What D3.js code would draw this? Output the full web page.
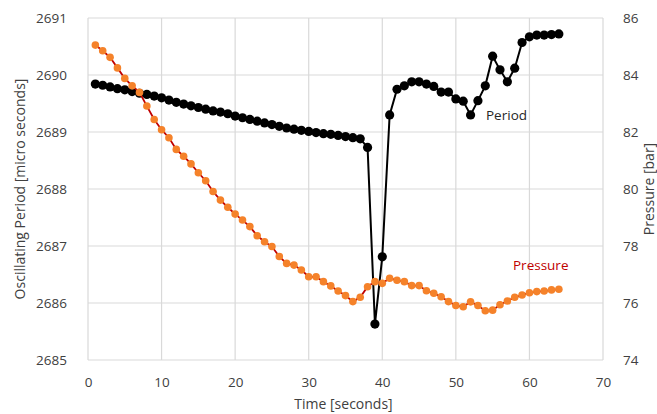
<!DOCTYPE html>
<html>
<head>
<meta charset="utf-8">
<script src="https://cdn.jsdelivr.net/npm/d3@7"></script>
<style>
  html, body { margin: 0; padding: 0; background: #fff; }
  svg text { font-family: "Open Sans", "Noto Sans", sans-serif; }
</style>
</head>
<body>
<svg id="chart" width="657" height="414"></svg>
<script>
// Time axis (seconds)
const time = d3.range(1, 65);

// Oscillating period, micro seconds (left axis)
const period = [
  2689.84, 2689.82, 2689.79, 2689.76, 2689.74, 2689.71, 2689.68, 2689.66, 2689.63, 2689.60,
  2689.56, 2689.52, 2689.49, 2689.46, 2689.43, 2689.40, 2689.37, 2689.35, 2689.32, 2689.28,
  2689.25, 2689.22, 2689.19, 2689.16, 2689.13, 2689.10, 2689.07, 2689.05, 2689.03, 2689.01,
  2688.99, 2688.97, 2688.96, 2688.94, 2688.92, 2688.90, 2688.88, 2688.73, 2685.63, 2686.81,
  2689.30, 2689.75, 2689.81, 2689.88, 2689.88, 2689.84, 2689.80, 2689.70, 2689.70, 2689.58,
  2689.54, 2689.30, 2689.55, 2689.81, 2690.33, 2690.09, 2689.88, 2690.12, 2690.57, 2690.67,
  2690.70, 2690.70, 2690.71, 2690.72
];

// Pressure, bar (right axis)
const pressure = [
  85.05, 84.85, 84.62, 84.25, 83.88, 83.62, 83.39, 82.91, 82.44, 82.08,
  81.80, 81.39, 81.15, 80.88, 80.57, 80.29, 79.91, 79.61, 79.36, 79.12,
  78.91, 78.68, 78.36, 78.15, 77.98, 77.63, 77.39, 77.33, 77.16, 76.92,
  76.92, 76.75, 76.60, 76.42, 76.26, 76.05, 76.20, 76.57, 76.75, 76.69,
  76.87, 76.80, 76.75, 76.61, 76.61, 76.43, 76.34, 76.22, 76.05, 75.91,
  75.87, 76.04, 75.91, 75.73, 75.75, 75.94, 76.07, 76.20, 76.28, 76.36,
  76.40, 76.42, 76.46, 76.48
];

const xTicks = [0, 10, 20, 30, 40, 50, 60, 70];
const periodTicks = [2685, 2686, 2687, 2688, 2689, 2690, 2691];
const pressureTicks = [74, 76, 78, 80, 82, 84, 86];

const svg = d3.select("#chart");
const plotLeft = 88, plotRight = 603, plotTop = 18, plotBottom = 360;

const x = d3.scaleLinear().domain([0, 70]).range([plotLeft, plotRight]);
const yL = d3.scaleLinear().domain([2685, 2691]).range([plotBottom, plotTop]);
const yR = d3.scaleLinear().domain([74, 86]).range([plotBottom, plotTop]);

const textColor = "#404040";
const gridColor = "#d9d9d9";

// Gridlines
const grid = svg.append("g");
grid.selectAll("line.h").data(periodTicks).join("line")
  .attr("x1", plotLeft).attr("x2", plotRight)
  .attr("y1", d => yL(d)).attr("y2", d => yL(d))
  .attr("stroke", gridColor).attr("stroke-width", 1.2);
grid.selectAll("line.v").data(xTicks).join("line")
  .attr("y1", plotTop).attr("y2", plotBottom)
  .attr("x1", d => x(d)).attr("x2", d => x(d))
  .attr("stroke", gridColor).attr("stroke-width", 1.2);

// Axes (labels only, lines come from the grid)
function styleAxis(g) {
  g.select(".domain").remove();
  g.selectAll(".tick line").remove();
  g.selectAll("text").attr("fill", textColor).attr("font-size", 13.5);
}
svg.append("g").attr("transform", `translate(0,${plotBottom})`)
  .call(d3.axisBottom(x).tickValues(xTicks).tickFormat(d3.format("d")).tickPadding(11))
  .call(styleAxis);
svg.append("g").attr("transform", `translate(${plotLeft},0)`)
  .call(d3.axisLeft(yL).tickValues(periodTicks).tickFormat(d3.format("d")).tickPadding(15))
  .call(styleAxis);
svg.append("g").attr("transform", `translate(${plotRight},0)`)
  .call(d3.axisRight(yR).tickValues(pressureTicks).tickFormat(d3.format("d")).tickPadding(14))
  .call(styleAxis);

// Axis titles
svg.append("text").attr("x", (plotLeft + plotRight) / 2 - 2).attr("y", 409)
  .attr("text-anchor", "middle").attr("fill", textColor).attr("font-size", 14)
  .text("Time [seconds]");
svg.append("text").attr("transform", `translate(25,${(plotTop + plotBottom) / 2}) rotate(-90)`)
  .attr("text-anchor", "middle").attr("fill", textColor).attr("font-size", 14)
  .text("Oscillating Period [micro seconds]");
svg.append("text").attr("transform", `translate(654,${(plotTop + plotBottom) / 2}) rotate(-90)`)
  .attr("text-anchor", "middle").attr("fill", textColor).attr("font-size", 14)
  .text("Pressure [bar]");

// Period series
const periodPts = time.map((t, i) => [t, period[i]]);
svg.append("path").datum(periodPts)
  .attr("fill", "none").attr("stroke", "#000").attr("stroke-width", 2)
  .attr("d", d3.line().x(d => x(d[0])).y(d => yL(d[1])));
svg.append("g").selectAll("circle").data(periodPts).join("circle")
  .attr("cx", d => x(d[0])).attr("cy", d => yL(d[1])).attr("r", 4.6)
  .attr("fill", "#000");

// Pressure series
const pressurePts = time.map((t, i) => [t, pressure[i]]);
svg.append("path").datum(pressurePts)
  .attr("fill", "none").attr("stroke", "#c00000").attr("stroke-width", 1.8)
  .attr("d", d3.line().x(d => x(d[0])).y(d => yR(d[1])));
svg.append("g").selectAll("circle").data(pressurePts).join("circle")
  .attr("cx", d => x(d[0])).attr("cy", d => yR(d[1])).attr("r", 3.8)
  .attr("fill", "#f5822a");

// Series labels
svg.append("text").attr("x", 486).attr("y", 120)
  .attr("fill", "#262626").attr("font-size", 13.5).text("Period");
svg.append("text").attr("x", 513).attr("y", 270)
  .attr("fill", "#c00000").attr("font-size", 13.5).text("Pressure");
</script>
</body>
</html>
